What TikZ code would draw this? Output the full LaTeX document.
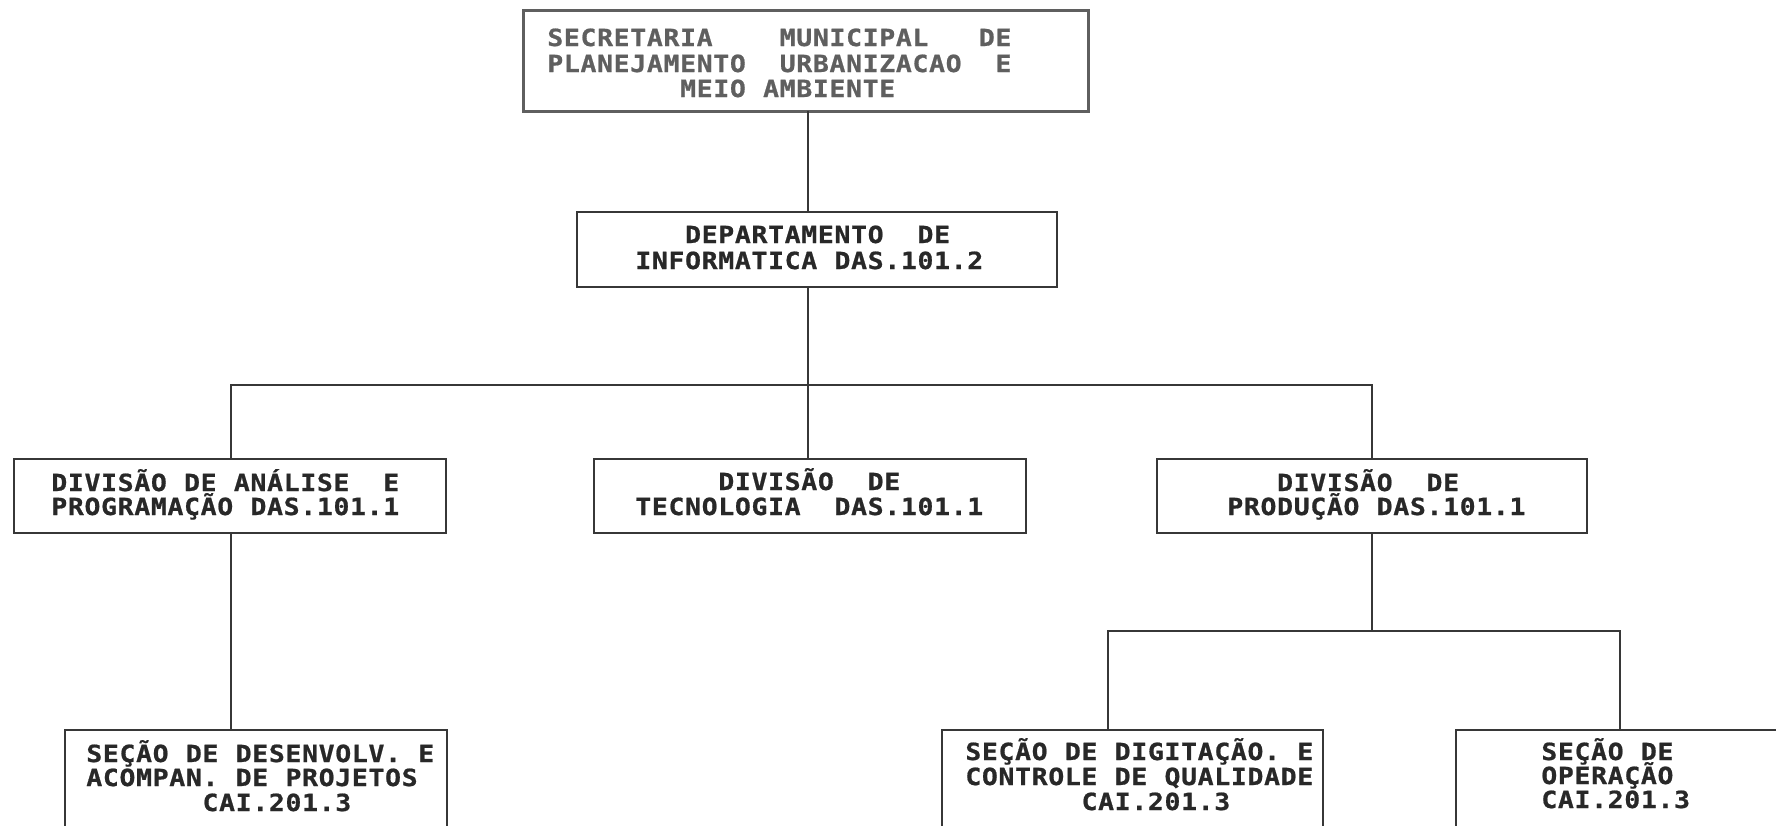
\documentclass[tikz,border=0pt]{standalone}
\usepackage{fontspec}
\newfontfamily\boxfont{DejaVu Sans Mono}[FakeStretch=1.12, FakeBold=0.8]
\newlength\pitch
\setlength\pitch{8.3pt}
\def\monoloop#1{\ifx#1\relax\else\monochar#1\expandafter\monoloop\fi}
\def\monochar#1{\ifx#1|\hspace*{\pitch}\else\makebox[\pitch][c]{#1}\fi}
\newcommand\mono[1]{\monoloop#1\relax}
\definecolor{ink}{RGB}{40,40,40}
\definecolor{inktop}{RGB}{95,95,95}
\definecolor{rule}{RGB}{55,55,55}
\tikzset{
  orgbox/.style={draw=rule, line width=1.1pt, inner sep=0pt, outer sep=0pt, rectangle},
  txt/.style={anchor=base west, inner sep=0pt, outer sep=0pt, text=ink,
    font=\boxfont\bfseries\fontsize{11.8}{14}\selectfont},
  link/.style={draw=rule, line width=1pt}
}
\begin{document}
\begin{tikzpicture}[x=0.5pt, y=-0.5pt]
\useasboundingbox (0,0) rectangle (1776,825);
\fill[white] (0,0) rectangle (1776,825);
\clip (0,0) rectangle (1776,825);

% boxes
\node[orgbox, draw=inktop, line width=1.5pt, minimum width=282.5pt, minimum height=50.5pt] (top) at (805.5,60.5) {};
\node[orgbox, minimum width=240pt, minimum height=37.5pt] (dept) at (817,249.5) {};
\node[orgbox, minimum width=216pt, minimum height=37pt] (divA) at (230,496) {};
\node[orgbox, minimum width=216pt, minimum height=37pt] (tech) at (810,496) {};
\node[orgbox, minimum width=215pt, minimum height=37pt] (prod) at (1372,496) {};
\node[orgbox, minimum width=191pt, minimum height=50pt] (secA) at (256,780) {};
\node[orgbox, minimum width=190.5pt, minimum height=50pt] (secD) at (1132.5,780) {};
\node[orgbox, minimum width=172pt, minimum height=50pt] (secO) at (1628,780) {};

% junctions
\coordinate (j1) at (808,385);
\coordinate (jA) at (231,385);
\coordinate (jP) at (1372,385);
\coordinate (kD) at (1108,631);
\coordinate (kO) at (1620,631);
\coordinate (k) at (1372,631);

% connectors
\draw[link] (top.south -| j1) -- (dept.north -| j1);
\draw[link] (dept.south -| j1) -- (j1);
\draw[link] (divA.north -| jA) -- (jA) -- (jP) -- (prod.north -| jP);
\draw[link] (j1) -- (tech.north -| j1);
\draw[link] (divA.south -| jA) -- (secA.north -| jA);
\draw[link] (prod.south -| jP) -- (k);
\draw[link] (secD.north -| kD) -- (kD) -- (kO) -- (secO.north -| kO);

% texts
\node[txt, text=inktop] (top1) at (547,46) {\mono{SECRETARIA||||MUNICIPAL|||DE}};
\node[txt, text=inktop] (top2) at (547,72) {\mono{PLANEJAMENTO||URBANIZACAO||E}};
\node[txt, text=inktop] (top3) at (547,97) {\mono{||||||||MEIO|AMBIENTE}};

\node[txt] (dept1) at (635,243) {\mono{|||DEPARTAMENTO||DE}};
\node[txt] (dept2) at (635,269) {\mono{INFORMATICA|DAS.101.2}};

\node[txt] (divA1) at (51,491) {\mono{DIVISÃO|DE|ANÁLISE||E}};
\node[txt] (divA2) at (51,515) {\mono{PROGRAMAÇÃO|DAS.101.1}};

\node[txt] (tech1) at (635,490) {\mono{|||||DIVISÃO||DE}};
\node[txt] (tech2) at (635,515) {\mono{TECNOLOGIA||DAS.101.1}};

\node[txt] (prod1) at (1227,491) {\mono{|||DIVISÃO||DE}};
\node[txt] (prod2) at (1227,515) {\mono{PRODUÇÃO|DAS.101.1}};

\node[txt] (secA1) at (86,762) {\mono{SEÇÃO|DE|DESENVOLV.|E}};
\node[txt] (secA2) at (86,786) {\mono{ACOMPAN.|DE|PROJETOS}};
\node[txt] (secA3) at (86,811) {\mono{|||||||CAI.201.3}};

\node[txt] (secD1) at (965,760) {\mono{SEÇÃO|DE|DIGITAÇÃO.|E}};
\node[txt] (secD2) at (965,785) {\mono{CONTROLE|DE|QUALIDADE}};
\node[txt] (secD3) at (965,810) {\mono{|||||||CAI.201.3}};

\node[txt] (secO1) at (1541,760) {\mono{SEÇÃO|DE}};
\node[txt] (secO2) at (1541,784) {\mono{OPERAÇÃO}};
\node[txt] (secO3) at (1541,808) {\mono{CAI.201.3}};
\end{tikzpicture}
\end{document}
